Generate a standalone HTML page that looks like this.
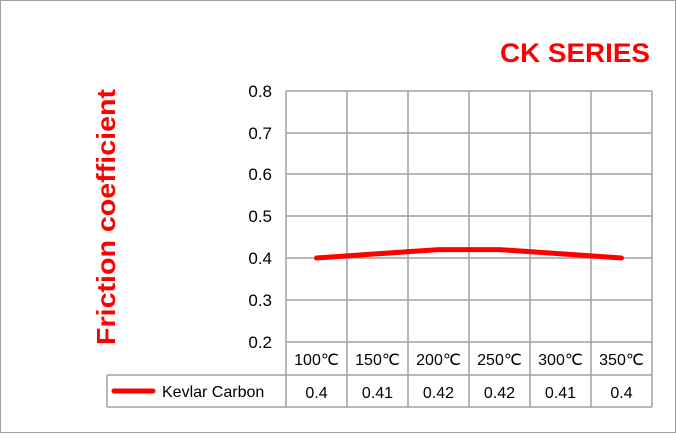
<!DOCTYPE html>
<html><head><style>
body{margin:0;background:#fff}
</style></head><body>
<svg width="676" height="433" xmlns="http://www.w3.org/2000/svg" font-family="Liberation Sans, sans-serif">
<rect x="0.5" y="0.5" width="675" height="432" fill="#fff" stroke="#a0a0a0"/>
<text x="650" y="62" text-anchor="end" font-size="27" font-weight="bold" fill="#ff0000" textLength="150" lengthAdjust="spacingAndGlyphs">CK SERIES</text>
<text transform="translate(115,217) rotate(-90)" text-anchor="middle" font-size="26" font-weight="bold" fill="#ff0000" textLength="256" lengthAdjust="spacingAndGlyphs">Friction coefficient</text>
<g stroke="#a0a0a0" stroke-width="1.5" fill="none">
<line x1="286" y1="91" x2="652" y2="91"/>
<line x1="286" y1="133" x2="652" y2="133"/>
<line x1="286" y1="174" x2="652" y2="174"/>
<line x1="286" y1="216" x2="652" y2="216"/>
<line x1="286" y1="258" x2="652" y2="258"/>
<line x1="286" y1="300" x2="652" y2="300"/>
<line x1="286" y1="342" x2="652" y2="342"/>
<line x1="286" y1="91" x2="286" y2="407"/>
<line x1="347" y1="91" x2="347" y2="407"/>
<line x1="408" y1="91" x2="408" y2="407"/>
<line x1="469" y1="91" x2="469" y2="407"/>
<line x1="530" y1="91" x2="530" y2="407"/>
<line x1="591" y1="91" x2="591" y2="407"/>
<line x1="652" y1="91" x2="652" y2="407"/>
<line x1="107" y1="375" x2="652" y2="375"/>
<line x1="107" y1="407" x2="652" y2="407"/>
<line x1="107" y1="375" x2="107" y2="407"/>
</g>
<g font-size="17" fill="#000" text-anchor="end">
<text x="272" y="97">0.8</text>
<text x="272" y="139">0.7</text>
<text x="272" y="180">0.6</text>
<text x="272" y="222">0.5</text>
<text x="272" y="264">0.4</text>
<text x="272" y="306">0.3</text>
<text x="272" y="348">0.2</text>
</g>
<g font-size="16" fill="#000" text-anchor="middle">
<text x="316.5" y="365">100℃</text>
<text x="377.5" y="365">150℃</text>
<text x="438.5" y="365">200℃</text>
<text x="499.5" y="365">250℃</text>
<text x="560.5" y="365">300℃</text>
<text x="621.5" y="365">350℃</text>
<text x="316.5" y="398">0.4</text>
<text x="377.5" y="398">0.41</text>
<text x="438.5" y="398">0.42</text>
<text x="499.5" y="398">0.42</text>
<text x="560.5" y="398">0.41</text>
<text x="621.5" y="398">0.4</text>
</g>
<line x1="114" y1="391" x2="153" y2="391" stroke="#ff0000" stroke-width="5" stroke-linecap="round"/>
<text x="162" y="397" font-size="16" fill="#000">Kevlar Carbon</text>
<polyline points="316.5,258 377.5,253.8 438.5,249.6 499.5,249.6 560.5,253.8 621.5,258" fill="none" stroke="#ff0000" stroke-width="5" stroke-linecap="round" stroke-linejoin="round"/>
</svg>
</body></html>
